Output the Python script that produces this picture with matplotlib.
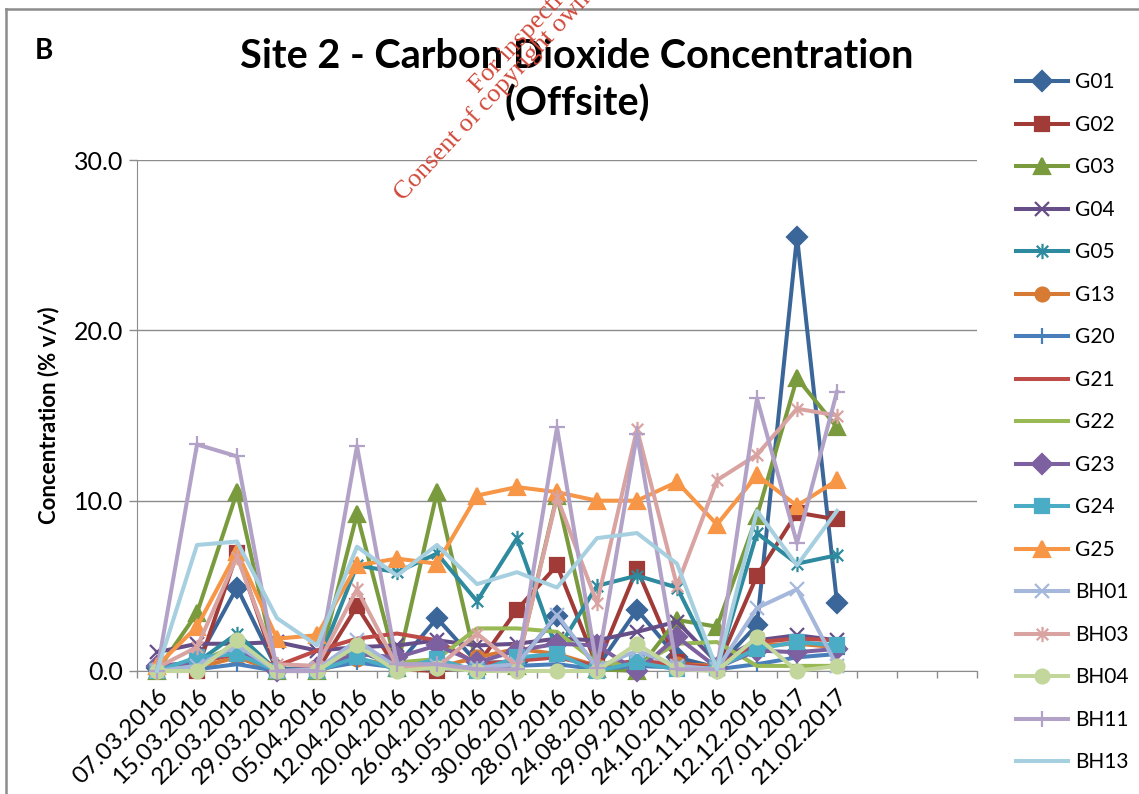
import numpy as np
import matplotlib
matplotlib.use("Agg")
import matplotlib.pyplot as plt
from matplotlib.path import Path
from matplotlib.lines import Line2D

plt.rcParams['font.family'] = ['Lato', 'DejaVu Sans']

# sampling dates (category axis)
dates = ['07.03.2016', '15.03.2016', '22.03.2016', '29.03.2016', '05.04.2016',
         '12.04.2016', '20.04.2016', '26.04.2016', '31.05.2016', '30.06.2016',
         '28.07.2016', '24.08.2016', '29.09.2016', '24.10.2016', '22.11.2016',
         '12.12.2016', '27.01.2017', '21.02.2017']

# CO2 concentration (% v/v) per monitoring well
G01 = [0.2, 0.6, 4.9, 0.1, 0.2, 1.2, 0.3, 3.1, 0.5, 0.5, 3.2, 0.2, 3.6, 0.8, 0.2, 2.7, 25.5, 4.0]
G02 = [0.0, 0.0, 6.9, 0.0, 0.0, 3.8, 0.1, 0.0, 0.3, 3.6, 6.2, 0.3, 6.0, 0.5, 0.2, 5.6, 9.3, 8.9]
G03 = [0.0, 3.4, 10.5, 0.0, 0.0, 9.2, 0.2, 10.5, 0.3, 0.3, 10.3, 0.1, 0.0, 3.0, 2.6, 9.1, 17.2, 14.3]
G04 = [1.1, 1.6, 1.6, 1.7, 1.2, 1.4, 1.5, 1.8, 1.5, 1.6, 1.9, 1.8, 2.3, 2.9, 0.5, 1.8, 2.1, 1.8]
G05 = [0.0, 0.5, 2.2, 0.0, 0.3, 6.2, 5.8, 6.9, 4.1, 7.8, 1.2, 5.0, 5.6, 4.9, 0.2, 8.1, 6.3, 6.8]
G13 = [0.0, 0.2, 0.8, 0.0, 0.0, 0.7, 0.3, 0.2, 0.8, 1.3, 1.0, 0.3, 0.5, 0.4, 0.3, 1.5, 1.6, 1.4]
G20 = [0.0, 0.1, 0.4, 0.0, 0.1, 0.5, 0.2, 0.1, 0.2, 0.3, 0.4, 0.1, 0.3, 0.2, 0.1, 0.4, 0.8, 1.0]
G21 = [0.2, 0.5, 1.0, 0.3, 1.2, 1.9, 2.2, 1.8, 0.4, 0.6, 0.8, 0.3, 0.6, 0.4, 0.2, 1.7, 1.9, 1.8]
G22 = [0.0, 0.5, 1.5, 0.0, 0.0, 1.2, 0.5, 0.7, 2.5, 2.5, 2.3, 0.5, 0.3, 1.6, 1.7, 0.3, 0.3, 0.3]
G23 = [0.3, 0.5, 1.2, 0.0, 0.2, 1.0, 0.8, 1.5, 0.5, 1.2, 1.6, 1.5, 0.0, 2.0, 0.2, 1.2, 1.1, 1.3]
G24 = [0.0, 0.8, 1.0, 0.0, 0.0, 0.8, 0.1, 0.7, 0.0, 0.8, 1.0, 0.0, 0.5, 0.1, 0.2, 1.3, 1.7, 1.5]
G25 = [0.3, 2.6, 7.0, 1.9, 2.1, 6.2, 6.6, 6.3, 10.3, 10.8, 10.5, 10.0, 10.0, 11.1, 8.6, 11.5, 9.7, 11.2]
BH01 = [0.0, 0.3, 1.5, 0.0, 0.1, 1.8, 0.2, 0.3, 0.2, 0.4, 3.3, 0.2, 1.2, 0.3, 0.1, 3.7, 4.8, 0.3]
BH03 = [0.2, 1.4, 6.7, 0.4, 0.3, 4.8, 0.3, 0.2, 2.2, 0.3, 10.2, 4.0, 14.2, 5.0, 11.2, 12.7, 15.4, 15.0]
BH04 = [0.0, 0.0, 1.8, 0.0, 0.0, 1.5, 0.0, 0.2, 0.0, 0.0, 0.0, 0.0, 1.6, 0.1, 0.0, 2.0, 0.0, 0.3]
BH11 = [0.0, 13.3, 12.6, 0.0, 0.0, 13.2, 0.4, 0.4, 0.1, 0.1, 14.3, 0.2, 13.9, 0.1, 0.1, 16.0, 7.5, 16.4]
BH13 = [0.0, 7.4, 7.6, 3.1, 1.5, 7.3, 5.6, 7.4, 5.1, 5.8, 4.9, 7.8, 8.1, 6.3, 0.1, 9.4, 6.2, 9.4]

# excel style asterisk marker
ast = Path([(0, -1), (0, 1), (-0.75, -0.75), (0.75, 0.75), (-0.75, 0.75), (0.75, -0.75)],
           [Path.MOVETO, Path.LINETO, Path.MOVETO, Path.LINETO, Path.MOVETO, Path.LINETO])

series = [
    ('G01', G01, '#3A6699', 'D', 10),
    ('G02', G02, '#A13B38', 's', 10),
    ('G03', G03, '#7A9A3E', '^', 11),
    ('G04', G04, '#664E88', 'x', 10),
    ('G05', G05, '#2E8A9E', ast, 11),
    ('G13', G13, '#D67A34', 'o', 10),
    ('G20', G20, '#4A7EBB', '+', 11),
    ('G21', G21, '#BE4B48', None, 0),
    ('G22', G22, '#98B954', None, 0),
    ('G23', G23, '#7D60A0', 'D', 10),
    ('G24', G24, '#4BACC6', 's', 10),
    ('G25', G25, '#F79646', '^', 11),
    ('BH01', BH01, '#A5B8DC', 'x', 10),
    ('BH03', BH03, '#D9A3A2', ast, 11),
    ('BH04', BH04, '#C3D69B', 'o', 10),
    ('BH11', BH11, '#B3A2C7', '+', 11),
    ('BH13', BH13, '#A6CFE0', None, 0),
]

fig = plt.figure(figsize=(11.39, 7.94), dpi=100)
ax = fig.add_axes([137/1139, 1-671/794, 840/1139, 511/794])

x = np.arange(len(dates))
for name, vals, col, mk, ms in series:
    ax.plot(x, vals, color=col, lw=2.9, marker=mk, ms=ms, mew=1.6,
            mec=col, mfc=col, label=name, clip_on=False, zorder=3)

ncat = 21
ax.set_xlim(-0.5, ncat - 0.5)
ax.set_ylim(0, 30)
ax.set_xticks(x)
ax.set_xticklabels(dates, rotation=45, ha='right', rotation_mode='anchor', fontsize=17.5)
ax.set_xticks(np.arange(ncat + 1) - 0.5, minor=True)
ax.tick_params(axis='x', which='major', length=0, pad=10)
ax.tick_params(axis='x', which='minor', length=5, color='#8c8c8c', width=1)
ax.set_yticks([0, 10, 20, 30])
ax.set_yticklabels(['0.0', '10.0', '20.0', '30.0'], fontsize=18)
ax.tick_params(axis='y', length=6, color='#8c8c8c', width=1, pad=4)
ax.grid(axis='y', color='#8c8c8c', lw=1)
ax.set_axisbelow(True)
for s in ['top', 'right']:
    ax.spines[s].set_visible(False)
ax.spines['left'].set_color('#8c8c8c')
ax.spines['bottom'].set_color('#8c8c8c')

ax.set_ylabel('Concentration (% v/v)', fontsize=16, fontweight='bold')
ax.yaxis.set_label_coords(-0.093, 0.5)

fig.text(577/1139, 1-80/794, 'Site 2 - Carbon Dioxide Concentration\n(Offsite)',
         ha='center', va='center', fontsize=28.5, fontweight='bold', linespacing=1.32)
fig.text(35/1139, 1-51/794, 'B', ha='left', va='center', fontsize=20, fontweight='bold')

fig.legend(loc='upper left', bbox_to_anchor=(1008/1139, 1-64/794), frameon=False,
           fontsize=15, handlelength=2.5, handletextpad=0.3, labelspacing=1.08,
           borderaxespad=0)

# watermark
fig.text(478/1139, 1-94/794, 'For inspection purposes only.', rotation=47,
         rotation_mode='anchor', ha='left', va='baseline', color='#D04A3A',
         fontsize=19, family='Liberation Serif')
fig.text(403/1139, 1-202/794, 'Consent of copyright owner required for any other use.',
         rotation=47, rotation_mode='anchor', ha='left', va='baseline', color='#D04A3A',
         fontsize=19, family='Liberation Serif')

# chart border
fig.add_artist(Line2D([6/1139, 6/1139], [0, 1-9/794], color='#8c8c8c', lw=1.8))
fig.add_artist(Line2D([6/1139, 1], [1-9/794, 1-9/794], color='#8c8c8c', lw=1.8))

fig.savefig('out.png', dpi=100)
